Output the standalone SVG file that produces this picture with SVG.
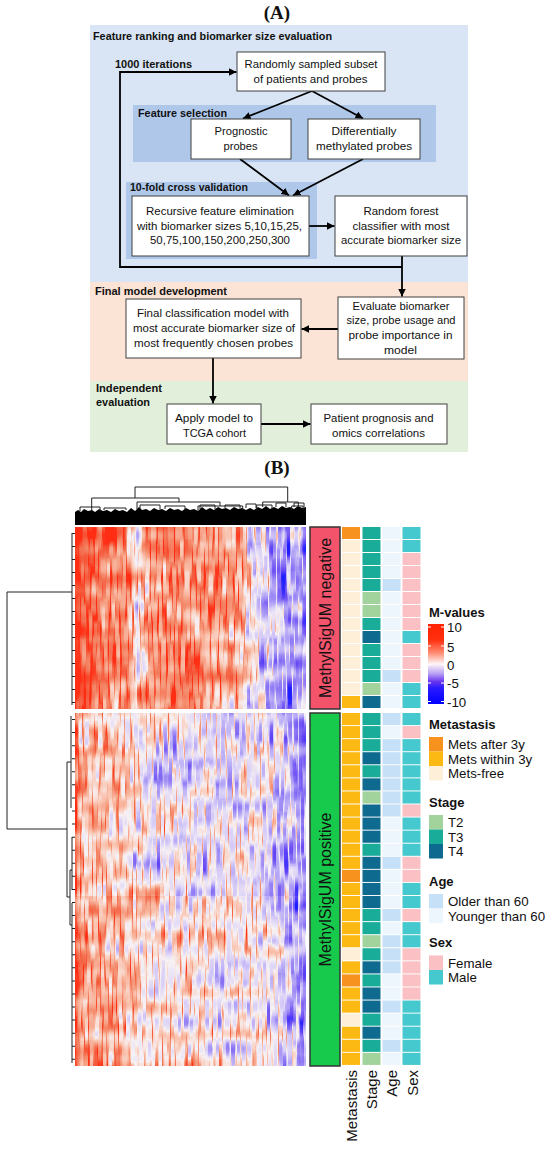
<svg xmlns="http://www.w3.org/2000/svg" width="550" height="1150" viewBox="0 0 550 1150">
<style>
.t{font-family:"Liberation Sans",Arial,sans-serif;font-size:11.3px;fill:#111;text-anchor:middle}
.h{font-family:"Liberation Sans",Arial,sans-serif;font-size:11px;font-weight:bold;fill:#111}
.box{fill:#fff;stroke:#404040;stroke-width:1}
.ar{fill:none;stroke:#000;stroke-width:1.8;marker-end:url(#ah)}
.dn{fill:none;stroke:#222;stroke-width:1}
.lab{font-family:"Liberation Sans",Arial,sans-serif;font-size:13.3px;fill:#111}
.lt{font-family:"Liberation Sans",Arial,sans-serif;font-size:13px;font-weight:bold;fill:#111}
.cl{font-family:"Liberation Sans",Arial,sans-serif;font-size:15px;fill:#111;text-anchor:end}
.gl{font-family:"Liberation Sans",Arial,sans-serif;font-size:16px;fill:#111;text-anchor:middle}
.c1{fill:#F7921E}.c2{fill:#FDB913}.c3{fill:#FDEFD8}
.t2{fill:#A3D39C}.t3{fill:#19AC99}.t4{fill:#0F6A8F}
.ao{fill:#C6E0F8}.ay{fill:#EEF6FD}
.sf{fill:#FAC0C3}.sm{fill:#45C8CE}
</style>
<defs>
<marker id="ah" viewBox="0 0 10 10" refX="10" refY="5" markerWidth="4.2" markerHeight="4.2" orient="auto" markerUnits="strokeWidth"><path d="M0,0 L10,5 L0,10 z" fill="#000"/></marker>
<linearGradient id="mv" x1="0" y1="0" x2="0" y2="1">
<stop offset="0" stop-color="#FF2200"/><stop offset="0.2" stop-color="#FF3010"/><stop offset="0.36" stop-color="#FF8C72"/><stop offset="0.5" stop-color="#FFF6F6"/><stop offset="0.62" stop-color="#B9A0F5"/><stop offset="0.72" stop-color="#6A35F0"/><stop offset="0.8" stop-color="#2A1AFF"/><stop offset="1" stop-color="#0000FF"/>
</linearGradient>
<linearGradient id="gNeg" x1="0" y1="0" x2="1" y2="0">
<stop offset="0" stop-color="rgb(5,5,5)"/><stop offset="0.025" stop-color="rgb(40,40,40)"/><stop offset="0.1" stop-color="rgb(62,62,62)"/><stop offset="0.24" stop-color="rgb(72,72,72)"/><stop offset="0.27" stop-color="rgb(132,132,132)"/><stop offset="0.31" stop-color="rgb(94,94,94)"/><stop offset="0.45" stop-color="rgb(78,78,78)"/><stop offset="0.6" stop-color="rgb(88,88,88)"/><stop offset="0.72" stop-color="rgb(102,102,102)"/><stop offset="0.77" stop-color="rgb(153,153,153)"/><stop offset="0.86" stop-color="rgb(189,189,189)"/><stop offset="0.93" stop-color="rgb(204,204,204)"/><stop offset="0.97" stop-color="rgb(189,189,189)"/><stop offset="1" stop-color="rgb(219,219,219)"/>
</linearGradient>
<linearGradient id="gPosA" x1="0" y1="0" x2="1" y2="0">
<stop offset="0" stop-color="rgb(46,46,46)"/><stop offset="0.03" stop-color="rgb(107,107,107)"/><stop offset="0.2" stop-color="rgb(122,122,122)"/><stop offset="0.27" stop-color="rgb(140,140,140)"/><stop offset="0.32" stop-color="rgb(153,153,153)"/><stop offset="0.5" stop-color="rgb(155,155,155)"/><stop offset="0.7" stop-color="rgb(160,160,160)"/><stop offset="0.77" stop-color="rgb(150,150,150)"/><stop offset="0.85" stop-color="rgb(170,170,170)"/><stop offset="0.95" stop-color="rgb(194,194,194)"/><stop offset="1" stop-color="rgb(219,219,219)"/>
</linearGradient>
<linearGradient id="gPosB" x1="0" y1="0" x2="1" y2="0">
<stop offset="0" stop-color="rgb(31,31,31)"/><stop offset="0.03" stop-color="rgb(90,90,90)"/><stop offset="0.2" stop-color="rgb(105,105,105)"/><stop offset="0.27" stop-color="rgb(130,130,130)"/><stop offset="0.5" stop-color="rgb(136,136,136)"/><stop offset="0.7" stop-color="rgb(146,146,146)"/><stop offset="0.78" stop-color="rgb(140,140,140)"/><stop offset="0.88" stop-color="rgb(166,166,166)"/><stop offset="0.96" stop-color="rgb(189,189,189)"/><stop offset="1" stop-color="rgb(214,214,214)"/>
</linearGradient>
<filter id="hmf" filterUnits="userSpaceOnUse" x="75" y="527" width="231" height="540" color-interpolation-filters="sRGB">
<feTurbulence type="fractalNoise" baseFrequency="0.5 0.025" numOctaves="2" seed="7" result="tn"/>
<feColorMatrix in="tn" type="matrix" values="1 0 0 0 0  1 0 0 0 0  1 0 0 0 0  0 0 0 0 1" result="g0"/>
<feMorphology in="g0" operator="erode" radius="0.8 5" result="g1e"/>
<feMorphology in="g1e" operator="dilate" radius="0.8 5" result="g1"/>
<feTurbulence type="fractalNoise" baseFrequency="0.02 0.07" numOctaves="1" seed="3" result="tr"/>
<feColorMatrix in="tr" type="matrix" values="0 1 0 0 0  0 1 0 0 0  0 1 0 0 0  0 0 0 0 1" result="g2"/>
<feComposite in="SourceGraphic" in2="g1" operator="arithmetic" k1="0" k2="1" k3="1.4" k4="-0.7" result="v1"/>
<feComposite in="v1" in2="g2" operator="arithmetic" k1="0" k2="1" k3="0.45" k4="-0.225" result="v"/>
<feComponentTransfer in="v" result="col">
<feFuncR type="table" tableValues="1 0.96 0.96 0.98 0.97 0.84 0.62 0.42 0.12"/>
<feFuncG type="table" tableValues="0.18 0.38 0.56 0.76 0.95 0.8 0.55 0.3 0.12"/>
<feFuncB type="table" tableValues="0.08 0.26 0.44 0.68 0.96 0.97 0.96 0.96 1"/>
</feComponentTransfer>
<feComposite in="col" in2="SourceGraphic" operator="in"/>
</filter>
</defs>
<rect width="550" height="1150" fill="#fff"/>

<!-- Panel A -->
<text x="277" y="18.5" font-family="'Liberation Serif','Times New Roman',serif" font-size="19" font-weight="bold" text-anchor="middle" fill="#111">(A)</text>

<g id="panel-ranking">
<rect x="90" y="25" width="378" height="257" fill="#D9E5F4"/>
<text class="h" x="93" y="40" textLength="239" lengthAdjust="spacingAndGlyphs">Feature ranking and biomarker size evaluation</text>
<text class="h" x="115" y="68" textLength="77" lengthAdjust="spacingAndGlyphs">1000 iterations</text>
</g>
<g id="panel-final">
<rect x="90" y="282" width="378" height="99" fill="#FBE3D6"/>
<text class="h" x="95" y="295" textLength="132" lengthAdjust="spacingAndGlyphs">Final model development</text>
</g>
<g id="panel-independent">
<rect x="90" y="381" width="378" height="71" fill="#E2EFDA"/>
<text class="h" x="96" y="392" textLength="66" lengthAdjust="spacingAndGlyphs">Independent</text>
<text class="h" x="96" y="406" textLength="54" lengthAdjust="spacingAndGlyphs">evaluation</text>
</g>
<g id="panel-feature-selection">
<rect x="133" y="105" width="303" height="57" fill="#AFC8EA"/>
<text class="h" x="138" y="116.5" textLength="89" lengthAdjust="spacingAndGlyphs">Feature selection</text>
</g>
<g id="panel-cv">
<rect x="126" y="182" width="191" height="77" fill="#AFC8EA"/>
<text class="h" x="130" y="190.5" textLength="118" lengthAdjust="spacingAndGlyphs">10-fold cross validation</text>
</g>

<g id="connectors">
<path class="ar" d="M312,91 L243,118.5"/>
<path class="ar" d="M312,91 L363,118.5"/>
<path class="ar" d="M240,159 L289,195.5"/>
<path class="ar" d="M363,159 L293,195.5"/>
<path class="ar" d="M309,226 L334.5,226"/>
<path class="ar" d="M402,256 L402,296.5"/>
<path class="ar" d="M402,267 H120 V72 H236.5"/>
<path class="ar" d="M338,329 L301.5,329"/>
<path class="ar" d="M213,358 L213,403.5"/>
<path class="ar" d="M261,424 L310.5,424"/>
</g>

<g id="node-random">
<rect class="box" x="237" y="52" width="148" height="39"/>
<text class="t" x="311" y="68" textLength="133" lengthAdjust="spacingAndGlyphs">Randomly sampled subset</text>
<text class="t" x="310.5" y="82.5" textLength="114" lengthAdjust="spacingAndGlyphs">of patients and probes</text>
</g>
<g id="node-prognostic">
<rect class="box" x="191" y="119" width="100" height="40"/>
<text class="t" x="241" y="135" textLength="53" lengthAdjust="spacingAndGlyphs">Prognostic</text>
<text class="t" x="240.5" y="150" textLength="34" lengthAdjust="spacingAndGlyphs">probes</text>
</g>
<g id="node-differential">
<rect class="box" x="308" y="119" width="112" height="40"/>
<text class="t" x="364" y="135" textLength="65" lengthAdjust="spacingAndGlyphs">Differentially</text>
<text class="t" x="364" y="150" textLength="96" lengthAdjust="spacingAndGlyphs">methylated probes</text>
</g>
<g id="node-rfe">
<rect class="box" x="132" y="196" width="177" height="60"/>
<text class="t" x="220" y="215" textLength="148" lengthAdjust="spacingAndGlyphs">Recursive feature elimination</text>
<text class="t" x="219.5" y="229.5" textLength="165" lengthAdjust="spacingAndGlyphs">with biomarker sizes 5,10,15,25,</text>
<text class="t" x="220" y="244" textLength="140" lengthAdjust="spacingAndGlyphs">50,75,100,150,200,250,300</text>
</g>
<g id="node-rf">
<rect class="box" x="335" y="196" width="132" height="60"/>
<text class="t" x="401" y="215" textLength="75" lengthAdjust="spacingAndGlyphs">Random forest</text>
<text class="t" x="401" y="229.5" textLength="97" lengthAdjust="spacingAndGlyphs">classifier with most</text>
<text class="t" x="401" y="244" textLength="120" lengthAdjust="spacingAndGlyphs">accurate biomarker size</text>
</g>
<g id="node-evaluate">
<rect class="box" x="338" y="297" width="126" height="62"/>
<text class="t" x="401" y="309.5" textLength="97" lengthAdjust="spacingAndGlyphs">Evaluate biomarker</text>
<text class="t" x="401" y="324" textLength="109" lengthAdjust="spacingAndGlyphs">size, probe usage and</text>
<text class="t" x="400.5" y="339" textLength="104" lengthAdjust="spacingAndGlyphs">probe importance in</text>
<text class="t" x="400.5" y="353.5" textLength="33" lengthAdjust="spacingAndGlyphs">model</text>
</g>
<g id="node-final">
<rect class="box" x="126" y="299" width="175" height="59"/>
<text class="t" x="213" y="317" textLength="152" lengthAdjust="spacingAndGlyphs">Final classification model with</text>
<text class="t" x="214" y="332" textLength="162" lengthAdjust="spacingAndGlyphs">most accurate biomarker size of</text>
<text class="t" x="213.5" y="347" textLength="159" lengthAdjust="spacingAndGlyphs">most frequently chosen probes</text>
</g>
<g id="node-apply">
<rect class="box" x="167" y="404" width="94" height="40"/>
<text class="t" x="214" y="422" textLength="78" lengthAdjust="spacingAndGlyphs">Apply model to</text>
<text class="t" x="214.5" y="436.5" textLength="63" lengthAdjust="spacingAndGlyphs">TCGA cohort</text>
</g>
<g id="node-patient">
<rect class="box" x="311" y="404" width="136" height="40"/>
<text class="t" x="378.5" y="422" textLength="110" lengthAdjust="spacingAndGlyphs">Patient prognosis and</text>
<text class="t" x="378.5" y="436.5" textLength="93" lengthAdjust="spacingAndGlyphs">omics correlations</text>
</g>

<!-- Panel B -->
<text x="277" y="474" font-family="'Liberation Serif','Times New Roman',serif" font-size="19" font-weight="bold" text-anchor="middle" fill="#111">(B)</text>

<g id="column-dendrogram">
<polygon fill="#000" points="75,525 75,512 78,510 81,512 84,509 88,511 92,510 95,512 99,509 103,511 107,510 111,512 115,509 119,511 123,510 127,512 131,508 135,511 139,507 142,510 146,509 150,511 154,508 158,510 162,509 166,511 170,508 174,510 178,509 182,511 186,508 190,510 194,509 198,511 202,507 206,510 210,508 214,510 218,507 222,509 226,508 230,510 234,507 238,509 242,508 246,510 250,508 254,510 258,507 262,509 266,506 270,509 274,507 278,509 282,506 286,508 290,507 294,509 298,506 302,508 306,507 306,525"/>
<path class="dn" d="M135,498 V487 H287.7 V502 M91.7,511 V498 H179 V502 M137,509 V502 H220 V506 M198,511 V506 H242.7 V510 M262.7,507 V502 H298.3 V506 M256.7,510 V505 H272 V509 M291.7,510 V506 H303 V510 M80,511 V507 H100 V511 M104,510 V508 H126 V510 M140,509 V505 H160 V509 M165,509 V506 H185 V509 M200,509 V505 H215 V509 M225,508 V505 H240 V508 M246,508 V504 H256 V508 M276,507 V503 H286 V507 M294,507 V503 H304 V507"/>
</g>

<g id="row-dendrogram">
<path class="dn" d="M72,592 H7 V829 H67 M72,533 V705 M67,762 V897 M67,762 H71 M71,716 V808 M67,897 H70 M70,870 V925 M70,870 H72 M72,837 V890 M70,925 H72 M72,903 V1063"/>
<line x1="73.5" y1="533" x2="73.5" y2="709" stroke="#222" stroke-width="3" stroke-dasharray="1 12"/>
<line x1="73.5" y1="719" x2="73.5" y2="1066" stroke="#222" stroke-width="3" stroke-dasharray="1 12.07"/>
</g>

<g id="heatmap" filter="url(#hmf)">
<rect x="75" y="527" width="231" height="182" fill="url(#gNeg)"/>
<rect x="75" y="713" width="231" height="183" fill="url(#gPosA)"/>
<rect x="75" y="896" width="231" height="170" fill="url(#gPosB)"/>
</g>

<g id="group-negative">
<rect x="310" y="527" width="30" height="182" fill="#F3546B" stroke="#333" stroke-width="1.5"/>
<text class="gl" transform="translate(331,618) rotate(-90)">MethylSigUM negative</text>
</g>
<g id="group-positive">
<rect x="310" y="713" width="30" height="353" fill="#18CA4C" stroke="#333" stroke-width="1.5"/>
<text class="gl" transform="translate(331,889.5) rotate(-90)">MethylSigUM positive</text>
</g>

<g id="annotations">
<g transform="translate(0,527)"><rect class="c1" x="342" y="0" width="18" height="12"/><rect class="t3" x="362.5" y="0" width="18" height="12"/><rect class="ay" x="382.5" y="0" width="18" height="12"/><rect class="sm" x="402.5" y="0" width="18" height="12"/></g>
<g transform="translate(0,540)"><rect class="c3" x="342" y="0" width="18" height="12"/><rect class="t3" x="362.5" y="0" width="18" height="12"/><rect class="ay" x="382.5" y="0" width="18" height="12"/><rect class="sm" x="402.5" y="0" width="18" height="12"/></g>
<g transform="translate(0,553)"><rect class="c3" x="342" y="0" width="18" height="12"/><rect class="t3" x="362.5" y="0" width="18" height="12"/><rect class="ay" x="382.5" y="0" width="18" height="12"/><rect class="sf" x="402.5" y="0" width="18" height="12"/></g>
<g transform="translate(0,566)"><rect class="c3" x="342" y="0" width="18" height="12"/><rect class="t3" x="362.5" y="0" width="18" height="12"/><rect class="ay" x="382.5" y="0" width="18" height="12"/><rect class="sf" x="402.5" y="0" width="18" height="12"/></g>
<g transform="translate(0,579)"><rect class="c3" x="342" y="0" width="18" height="12"/><rect class="t3" x="362.5" y="0" width="18" height="12"/><rect class="ao" x="382.5" y="0" width="18" height="12"/><rect class="sf" x="402.5" y="0" width="18" height="12"/></g>
<g transform="translate(0,592)"><rect class="c3" x="342" y="0" width="18" height="12"/><rect class="t2" x="362.5" y="0" width="18" height="12"/><rect class="ay" x="382.5" y="0" width="18" height="12"/><rect class="sf" x="402.5" y="0" width="18" height="12"/></g>
<g transform="translate(0,605)"><rect class="c3" x="342" y="0" width="18" height="12"/><rect class="t2" x="362.5" y="0" width="18" height="12"/><rect class="ay" x="382.5" y="0" width="18" height="12"/><rect class="sf" x="402.5" y="0" width="18" height="12"/></g>
<g transform="translate(0,618)"><rect class="c3" x="342" y="0" width="18" height="12"/><rect class="t3" x="362.5" y="0" width="18" height="12"/><rect class="ay" x="382.5" y="0" width="18" height="12"/><rect class="sf" x="402.5" y="0" width="18" height="12"/></g>
<g transform="translate(0,631)"><rect class="c3" x="342" y="0" width="18" height="12"/><rect class="t4" x="362.5" y="0" width="18" height="12"/><rect class="ay" x="382.5" y="0" width="18" height="12"/><rect class="sm" x="402.5" y="0" width="18" height="12"/></g>
<g transform="translate(0,644)"><rect class="c3" x="342" y="0" width="18" height="12"/><rect class="t3" x="362.5" y="0" width="18" height="12"/><rect class="ay" x="382.5" y="0" width="18" height="12"/><rect class="sf" x="402.5" y="0" width="18" height="12"/></g>
<g transform="translate(0,657)"><rect class="c3" x="342" y="0" width="18" height="12"/><rect class="t3" x="362.5" y="0" width="18" height="12"/><rect class="ay" x="382.5" y="0" width="18" height="12"/><rect class="sf" x="402.5" y="0" width="18" height="12"/></g>
<g transform="translate(0,670)"><rect class="c3" x="342" y="0" width="18" height="12"/><rect class="t3" x="362.5" y="0" width="18" height="12"/><rect class="ao" x="382.5" y="0" width="18" height="12"/><rect class="sf" x="402.5" y="0" width="18" height="12"/></g>
<g transform="translate(0,683)"><rect class="c3" x="342" y="0" width="18" height="12"/><rect class="t2" x="362.5" y="0" width="18" height="12"/><rect class="ay" x="382.5" y="0" width="18" height="12"/><rect class="sm" x="402.5" y="0" width="18" height="12"/></g>
<g transform="translate(0,696)"><rect class="c2" x="342" y="0" width="18" height="12"/><rect class="t4" x="362.5" y="0" width="18" height="12"/><rect class="ay" x="382.5" y="0" width="18" height="12"/><rect class="sm" x="402.5" y="0" width="18" height="12"/></g>

<g transform="translate(0,713)"><rect class="c2" x="342" y="0" width="18" height="12.1"/><rect class="t3" x="362.5" y="0" width="18" height="12.1"/><rect class="ao" x="382.5" y="0" width="18" height="12.1"/><rect class="sm" x="402.5" y="0" width="18" height="12.1"/></g>
<g transform="translate(0,726.07)"><rect class="c2" x="342" y="0" width="18" height="12.1"/><rect class="t3" x="362.5" y="0" width="18" height="12.1"/><rect class="ay" x="382.5" y="0" width="18" height="12.1"/><rect class="sf" x="402.5" y="0" width="18" height="12.1"/></g>
<g transform="translate(0,739.14)"><rect class="c2" x="342" y="0" width="18" height="12.1"/><rect class="t3" x="362.5" y="0" width="18" height="12.1"/><rect class="ao" x="382.5" y="0" width="18" height="12.1"/><rect class="sm" x="402.5" y="0" width="18" height="12.1"/></g>
<g transform="translate(0,752.21)"><rect class="c2" x="342" y="0" width="18" height="12.1"/><rect class="t4" x="362.5" y="0" width="18" height="12.1"/><rect class="ao" x="382.5" y="0" width="18" height="12.1"/><rect class="sm" x="402.5" y="0" width="18" height="12.1"/></g>
<g transform="translate(0,765.28)"><rect class="c2" x="342" y="0" width="18" height="12.1"/><rect class="t3" x="362.5" y="0" width="18" height="12.1"/><rect class="ao" x="382.5" y="0" width="18" height="12.1"/><rect class="sm" x="402.5" y="0" width="18" height="12.1"/></g>
<g transform="translate(0,778.35)"><rect class="c2" x="342" y="0" width="18" height="12.1"/><rect class="t4" x="362.5" y="0" width="18" height="12.1"/><rect class="ao" x="382.5" y="0" width="18" height="12.1"/><rect class="sm" x="402.5" y="0" width="18" height="12.1"/></g>
<g transform="translate(0,791.42)"><rect class="c2" x="342" y="0" width="18" height="12.1"/><rect class="t2" x="362.5" y="0" width="18" height="12.1"/><rect class="ao" x="382.5" y="0" width="18" height="12.1"/><rect class="sm" x="402.5" y="0" width="18" height="12.1"/></g>
<g transform="translate(0,804.49)"><rect class="c2" x="342" y="0" width="18" height="12.1"/><rect class="t4" x="362.5" y="0" width="18" height="12.1"/><rect class="ao" x="382.5" y="0" width="18" height="12.1"/><rect class="sf" x="402.5" y="0" width="18" height="12.1"/></g>
<g transform="translate(0,817.56)"><rect class="c2" x="342" y="0" width="18" height="12.1"/><rect class="t4" x="362.5" y="0" width="18" height="12.1"/><rect class="ay" x="382.5" y="0" width="18" height="12.1"/><rect class="sm" x="402.5" y="0" width="18" height="12.1"/></g>
<g transform="translate(0,830.63)"><rect class="c2" x="342" y="0" width="18" height="12.1"/><rect class="t4" x="362.5" y="0" width="18" height="12.1"/><rect class="ay" x="382.5" y="0" width="18" height="12.1"/><rect class="sm" x="402.5" y="0" width="18" height="12.1"/></g>
<g transform="translate(0,843.7)"><rect class="c2" x="342" y="0" width="18" height="12.1"/><rect class="t3" x="362.5" y="0" width="18" height="12.1"/><rect class="ay" x="382.5" y="0" width="18" height="12.1"/><rect class="sm" x="402.5" y="0" width="18" height="12.1"/></g>
<g transform="translate(0,856.77)"><rect class="c2" x="342" y="0" width="18" height="12.1"/><rect class="t4" x="362.5" y="0" width="18" height="12.1"/><rect class="ao" x="382.5" y="0" width="18" height="12.1"/><rect class="sf" x="402.5" y="0" width="18" height="12.1"/></g>
<g transform="translate(0,869.84)"><rect class="c1" x="342" y="0" width="18" height="12.1"/><rect class="t4" x="362.5" y="0" width="18" height="12.1"/><rect class="ay" x="382.5" y="0" width="18" height="12.1"/><rect class="sf" x="402.5" y="0" width="18" height="12.1"/></g>
<g transform="translate(0,882.91)"><rect class="c2" x="342" y="0" width="18" height="12.1"/><rect class="t4" x="362.5" y="0" width="18" height="12.1"/><rect class="ay" x="382.5" y="0" width="18" height="12.1"/><rect class="sm" x="402.5" y="0" width="18" height="12.1"/></g>
<g transform="translate(0,895.98)"><rect class="c2" x="342" y="0" width="18" height="12.1"/><rect class="t4" x="362.5" y="0" width="18" height="12.1"/><rect class="ay" x="382.5" y="0" width="18" height="12.1"/><rect class="sm" x="402.5" y="0" width="18" height="12.1"/></g>
<g transform="translate(0,909.05)"><rect class="c2" x="342" y="0" width="18" height="12.1"/><rect class="t3" x="362.5" y="0" width="18" height="12.1"/><rect class="ao" x="382.5" y="0" width="18" height="12.1"/><rect class="sf" x="402.5" y="0" width="18" height="12.1"/></g>
<g transform="translate(0,922.12)"><rect class="c2" x="342" y="0" width="18" height="12.1"/><rect class="t3" x="362.5" y="0" width="18" height="12.1"/><rect class="ay" x="382.5" y="0" width="18" height="12.1"/><rect class="sm" x="402.5" y="0" width="18" height="12.1"/></g>
<g transform="translate(0,935.19)"><rect class="c2" x="342" y="0" width="18" height="12.1"/><rect class="t2" x="362.5" y="0" width="18" height="12.1"/><rect class="ao" x="382.5" y="0" width="18" height="12.1"/><rect class="sm" x="402.5" y="0" width="18" height="12.1"/></g>
<g transform="translate(0,948.26)"><rect class="c3" x="342" y="0" width="18" height="12.1"/><rect class="t3" x="362.5" y="0" width="18" height="12.1"/><rect class="ao" x="382.5" y="0" width="18" height="12.1"/><rect class="sf" x="402.5" y="0" width="18" height="12.1"/></g>
<g transform="translate(0,961.33)"><rect class="c2" x="342" y="0" width="18" height="12.1"/><rect class="t4" x="362.5" y="0" width="18" height="12.1"/><rect class="ao" x="382.5" y="0" width="18" height="12.1"/><rect class="sf" x="402.5" y="0" width="18" height="12.1"/></g>
<g transform="translate(0,974.4)"><rect class="c1" x="342" y="0" width="18" height="12.1"/><rect class="t3" x="362.5" y="0" width="18" height="12.1"/><rect class="ay" x="382.5" y="0" width="18" height="12.1"/><rect class="sf" x="402.5" y="0" width="18" height="12.1"/></g>
<g transform="translate(0,987.47)"><rect class="c2" x="342" y="0" width="18" height="12.1"/><rect class="t4" x="362.5" y="0" width="18" height="12.1"/><rect class="ay" x="382.5" y="0" width="18" height="12.1"/><rect class="sf" x="402.5" y="0" width="18" height="12.1"/></g>
<g transform="translate(0,1000.54)"><rect class="c2" x="342" y="0" width="18" height="12.1"/><rect class="t4" x="362.5" y="0" width="18" height="12.1"/><rect class="ao" x="382.5" y="0" width="18" height="12.1"/><rect class="sm" x="402.5" y="0" width="18" height="12.1"/></g>
<g transform="translate(0,1013.61)"><rect class="c3" x="342" y="0" width="18" height="12.1"/><rect class="t3" x="362.5" y="0" width="18" height="12.1"/><rect class="ay" x="382.5" y="0" width="18" height="12.1"/><rect class="sm" x="402.5" y="0" width="18" height="12.1"/></g>
<g transform="translate(0,1026.68)"><rect class="c2" x="342" y="0" width="18" height="12.1"/><rect class="t4" x="362.5" y="0" width="18" height="12.1"/><rect class="ay" x="382.5" y="0" width="18" height="12.1"/><rect class="sm" x="402.5" y="0" width="18" height="12.1"/></g>
<g transform="translate(0,1039.75)"><rect class="c2" x="342" y="0" width="18" height="12.1"/><rect class="t3" x="362.5" y="0" width="18" height="12.1"/><rect class="ao" x="382.5" y="0" width="18" height="12.1"/><rect class="sm" x="402.5" y="0" width="18" height="12.1"/></g>
<g transform="translate(0,1052.82)"><rect class="c2" x="342" y="0" width="18" height="12.1"/><rect class="t2" x="362.5" y="0" width="18" height="12.1"/><rect class="ay" x="382.5" y="0" width="18" height="12.1"/><rect class="sm" x="402.5" y="0" width="18" height="12.1"/></g>
</g>

<g id="column-labels">
<text class="cl" transform="translate(356.5,1070) rotate(-90)">Metastasis</text>
<text class="cl" transform="translate(377,1070) rotate(-90)">Stage</text>
<text class="cl" transform="translate(397,1070) rotate(-90)">Age</text>
<text class="cl" transform="translate(417.5,1070) rotate(-90)">Sex</text>
</g>

<g id="legend-mvalues">
<text class="lt" x="429" y="617">M-values</text>
<rect x="428" y="624" width="16" height="80" fill="url(#mv)"/>
<path d="M428,627h3M441,627h3M428,646h3M441,646h3M428,664.5h3M441,664.5h3M428,683h3M441,683h3M428,701.5h3M441,701.5h3" stroke="#fff" stroke-width="1"/>
<text class="lab" x="447" y="632">10</text>
<text class="lab" x="447" y="651.5">5</text>
<text class="lab" x="447" y="670">0</text>
<text class="lab" x="447" y="688">-5</text>
<text class="lab" x="447" y="706.5">-10</text>
</g>
<g id="legend-metastasis">
<text class="lt" x="429" y="729">Metastasis</text>
<rect class="c1" x="429" y="737" width="14" height="14.5"/>
<rect class="c2" x="429" y="751.5" width="14" height="14.5"/>
<rect class="c3" x="429" y="766" width="14" height="14.5"/>
<text class="lab" x="448" y="749">Mets after 3y</text>
<text class="lab" x="448" y="763.5">Mets within 3y</text>
<text class="lab" x="448" y="778">Mets-free</text>
</g>
<g id="legend-stage">
<text class="lt" x="429" y="806.5">Stage</text>
<rect class="t2" x="429" y="815" width="14" height="14.5"/>
<rect class="t3" x="429" y="829.5" width="14" height="14.5"/>
<rect class="t4" x="429" y="844" width="14" height="14.5"/>
<text class="lab" x="448" y="827">T2</text>
<text class="lab" x="448" y="841.5">T3</text>
<text class="lab" x="448" y="856">T4</text>
</g>
<g id="legend-age">
<text class="lt" x="429" y="886">Age</text>
<rect class="ao" x="429" y="894" width="14" height="14.5"/>
<rect class="ay" x="429" y="908.5" width="14" height="14.5"/>
<text class="lab" x="448" y="906">Older than 60</text>
<text class="lab" x="448" y="920.5">Younger than 60</text>
</g>
<g id="legend-sex">
<text class="lt" x="429" y="947">Sex</text>
<rect class="sf" x="429" y="955.5" width="14" height="14.5"/>
<rect class="sm" x="429" y="970" width="14" height="14.5"/>
<text class="lab" x="448" y="967.5">Female</text>
<text class="lab" x="448" y="982">Male</text>
</g>
</svg>
